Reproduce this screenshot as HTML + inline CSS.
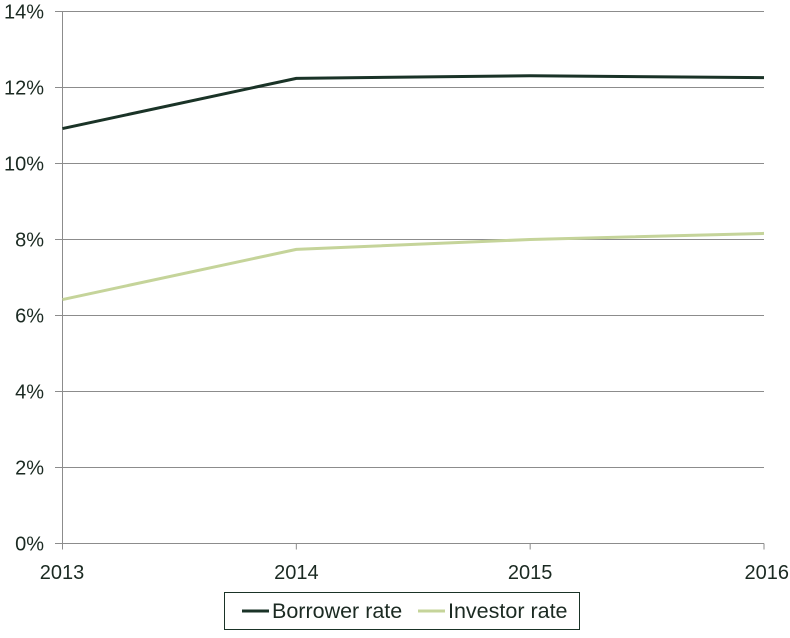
<!DOCTYPE html>
<html><head><meta charset="utf-8"><style>
body{margin:0;background:#fff}
svg text{font-family:"Liberation Sans",Arial,sans-serif;font-size:20px;fill:#1b2a22}
</style></head><body>
<svg id="chart" width="790" height="633" xmlns="http://www.w3.org/2000/svg"></svg>
<script>
const categories=["2013","2014","2015","2016"];
const borrowerRate=[10.92,12.24,12.31,12.26];
const investorRate=[6.42,7.74,8.0,8.16];
const yTicks=[0,2,4,6,8,10,12,14];
const seriesNames=["Borrower rate","Investor rate"];
const colors=["#1a3327","#c5d49a"];
const svg=document.getElementById('chart');
const NS='http://www.w3.org/2000/svg';
const X0=62.5,X1=764,Y0=543.5,Y1=11.5;
function x(i){return X0+(X1-X0)*i/(categories.length-1);}
function y(v){return Y0-(Y0-Y1)*v/14;}
function mk(t,a,p){const e=document.createElementNS(NS,t);for(const k in a)e.setAttribute(k,a[k]);(p||svg).appendChild(e);return e;}
yTicks.forEach(v=>{
  const l=mk('line',{x1:v===0?55:X0,x2:X1,y1:y(v),y2:y(v),stroke:'#8c8c8c','stroke-width':1});
  
  
  const tk=mk('line',{x1:55,x2:X0,y1:y(v),y2:y(v),stroke:'#8c8c8c'});
  
  
  const t=mk('text',{x:44,y:y(v)+7,'text-anchor':'end'});t.textContent=v+'%';
  
  
});
const ya=mk('line',{x1:X0,x2:X0,y1:Y1,y2:Y0,stroke:'#8c8c8c'});


categories.forEach((c,i)=>{
  const tk=mk('line',{x1:x(i),x2:x(i),y1:Y0,y2:Y0+6,stroke:'#8c8c8c'});
  
  
  const t=mk('text',{x:x(i),y:579,'text-anchor':'middle'});
  if(i===0)t.setAttribute('x',x(i)-0.5);
  if(i===categories.length-1){t.setAttribute('text-anchor','end');t.setAttribute('x',x(i)+25);}
  t.textContent=c;
  
  
});
[borrowerRate,investorRate].forEach((s,k)=>{
  const p=mk('polyline',{points:s.map((v,i)=>x(i)+','+y(v)).join(' '),fill:'none',stroke:colors[k],'stroke-width':3,'stroke-linejoin':'round'});
  
  
});
const lg=mk('g',{});


mk('rect',{x:224.5,y:592.5,width:355,height:37,fill:'#fff',stroke:'#1a3327'},lg);
const lx=[242,418];
seriesNames.forEach((n,k)=>{
  const g=mk('g',{},lg);
  
  
  mk('line',{x1:lx[k],x2:lx[k]+27,y1:611,y2:611,stroke:colors[k],'stroke-width':3},g);
  const t=mk('text',{x:lx[k]+30,y:618,'font-size':'21.5px','style':'font-size:21.5px'},g);t.textContent=n;
});
</script>
</body></html>
